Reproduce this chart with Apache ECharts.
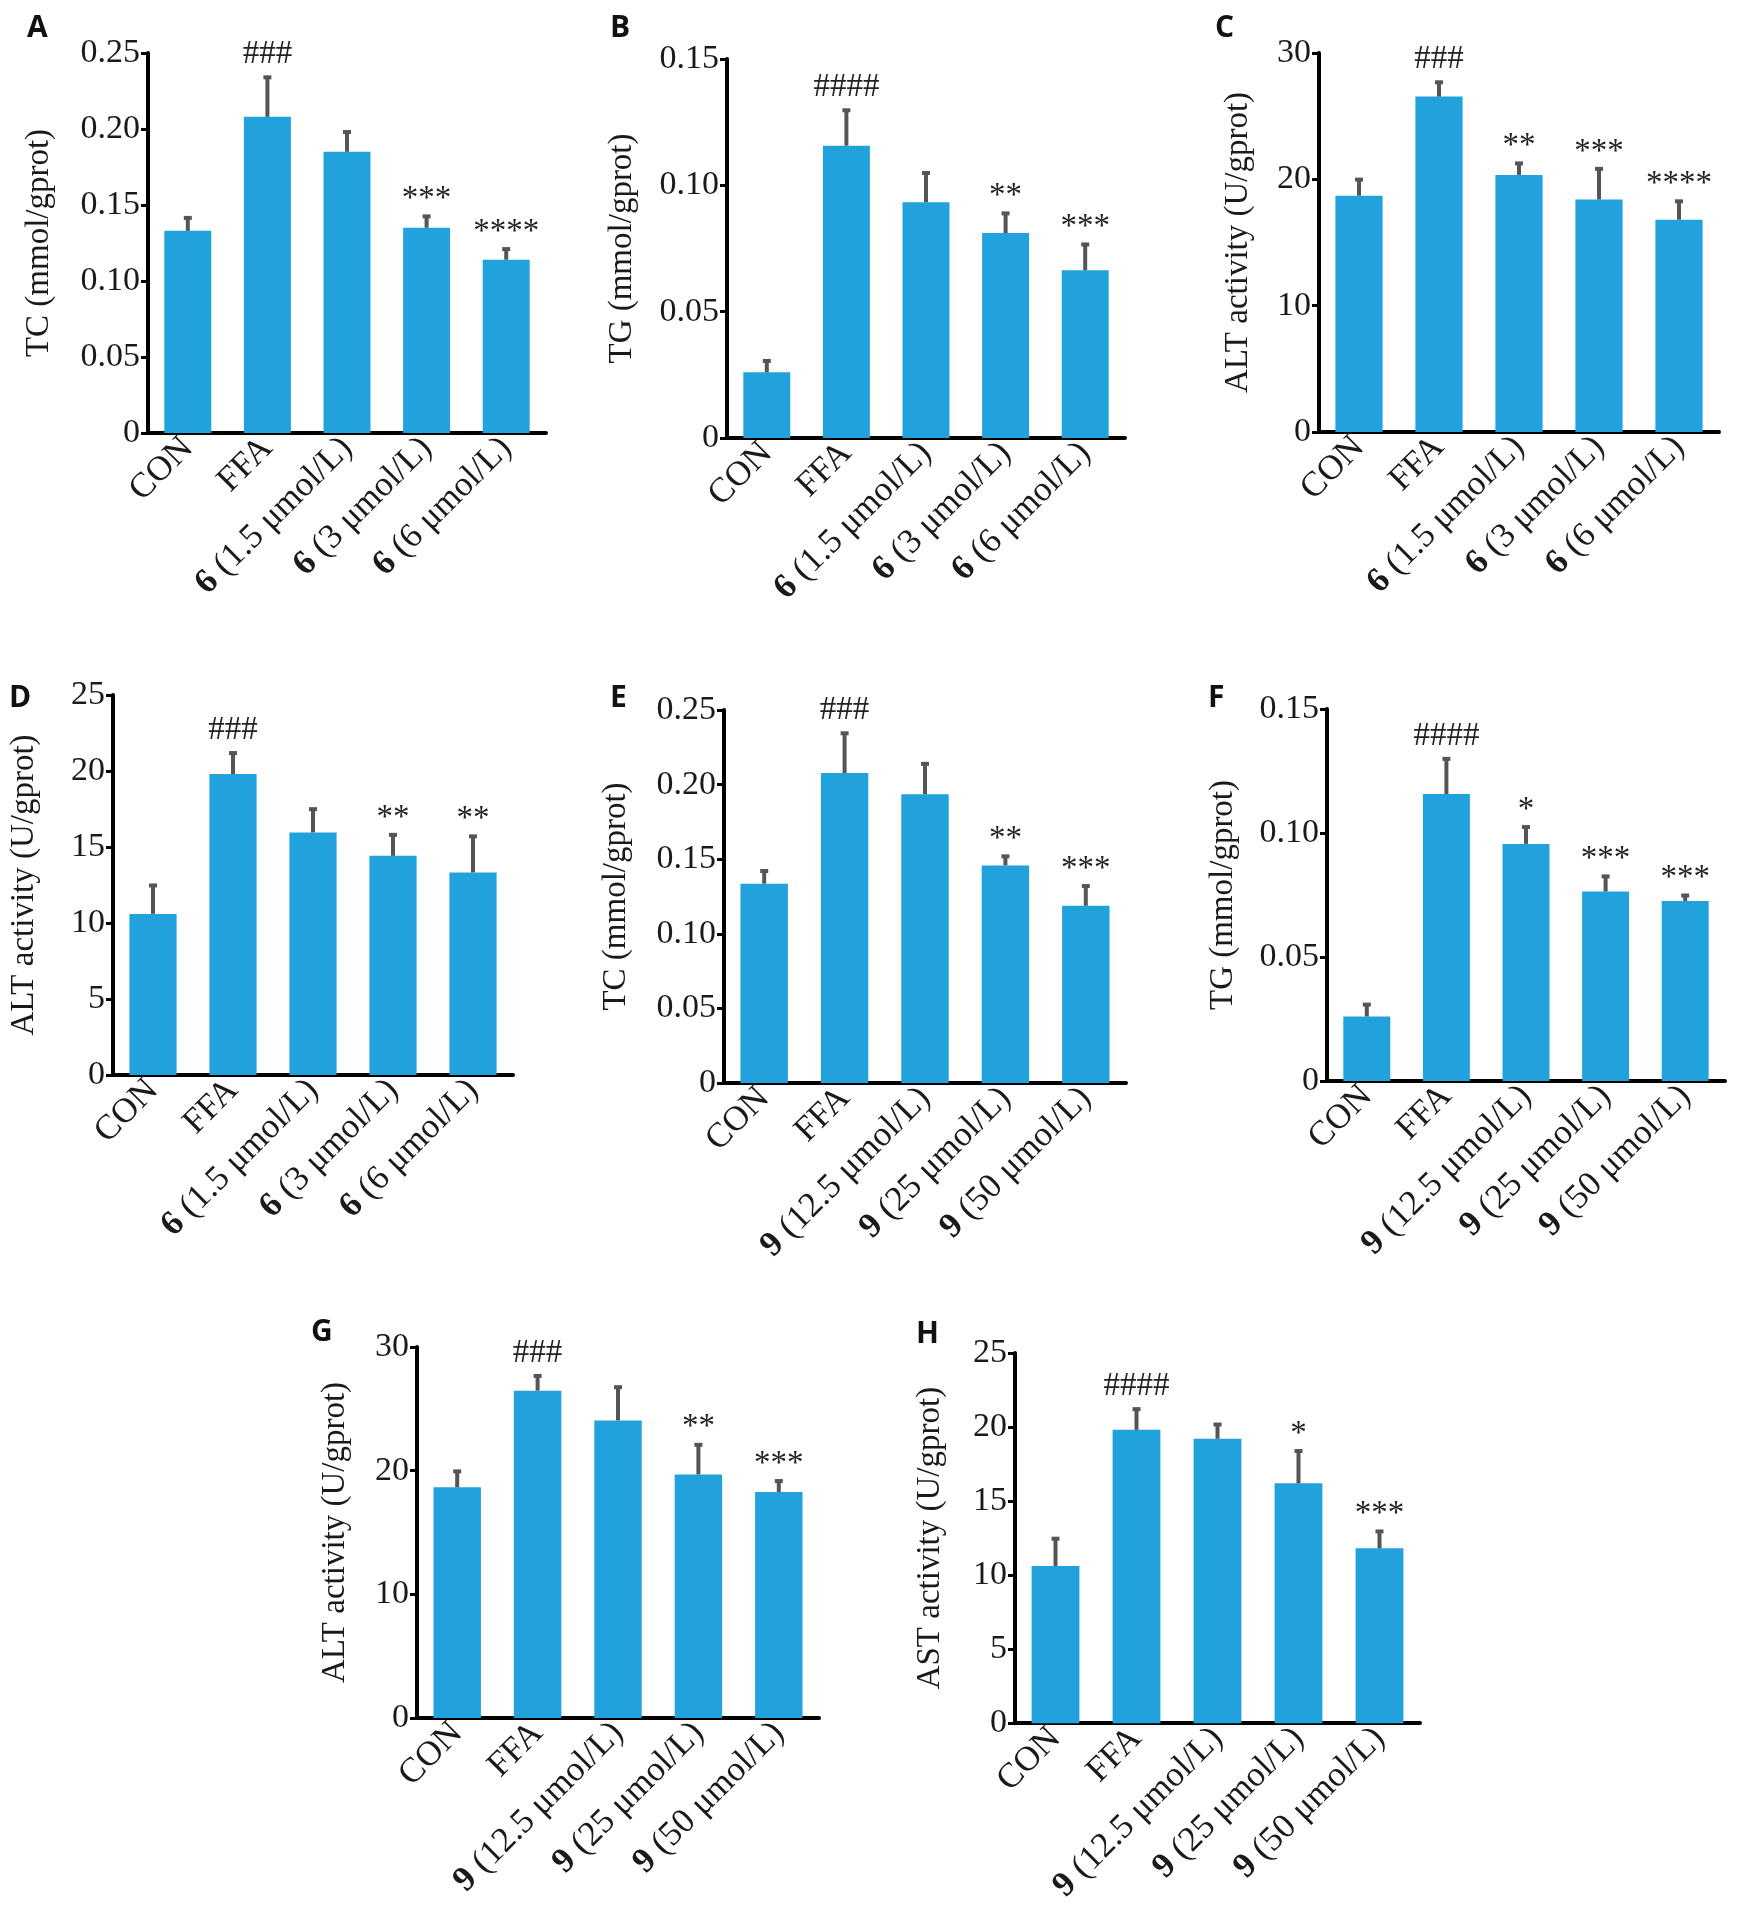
<!DOCTYPE html>
<html>
<head>
<meta charset="utf-8">
<script src="https://cdn.jsdelivr.net/npm/echarts@6/dist/echarts.min.js"></script>
<style>
  html, body { margin: 0; padding: 0; background: #fff; }
  #main { width: 1737px; height: 1906px; }
</style>
</head>
<body>
<div id="main"></div>
<script>
// categories
var cats6 = ['CON', 'FFA', '6 (1.5 μmol/L)', '6 (3 μmol/L)', '6 (6 μmol/L)'];
var cats9 = ['CON', 'FFA', '9 (12.5 μmol/L)', '9 (25 μmol/L)', '9 (50 μmol/L)'];

// A: TC, compound 6
var tc6Mean = [0.133, 0.208, 0.185, 0.135, 0.114];
var tc6Sd = [0.0085, 0.026, 0.013, 0.0075, 0.007];
var tc6Marks = ['', '###', '', '***', '****'];
// B: TG, compound 6
var tg6Mean = [0.026, 0.1157, 0.0933, 0.0811, 0.0664];
var tg6Sd = [0.0045, 0.014, 0.0116, 0.0078, 0.0102];
var tg6Marks = ['', '####', '', '**', '***'];
// C: ALT, compound 6
var altC6Mean = [18.7, 26.55, 20.35, 18.4, 16.8];
var altC6Sd = [1.28, 1.13, 0.91, 2.43, 1.46];
var altC6Marks = ['', '###', '**', '***', '****'];
// D: ALT, compound 6
var altD6Mean = [10.6, 19.8, 15.96, 14.42, 13.33];
var altD6Sd = [1.87, 1.38, 1.53, 1.38, 2.37];
var altD6Marks = ['', '###', '', '**', '**'];
// E: TC, compound 9
var tc9Mean = [0.1336, 0.2078, 0.1935, 0.1458, 0.1188];
var tc9Sd = [0.0085, 0.0266, 0.0204, 0.0061, 0.0132];
var tc9Marks = ['', '###', '', '**', '***'];
// F: TG, compound 9
var tg9Mean = [0.026, 0.1157, 0.0956, 0.0764, 0.0726];
var tg9Sd = [0.0048, 0.0142, 0.0068, 0.0061, 0.0022];
var tg9Marks = ['', '####', '*', '***', '***'];
// G: ALT, compound 9
var alt9Mean = [18.66, 26.47, 24.06, 19.69, 18.28];
var alt9Sd = [1.28, 1.19, 2.69, 2.4, 0.88];
var alt9Marks = ['', '###', '', '**', '***'];
// H: AST, compound 9
var ast9Mean = [10.62, 19.81, 19.21, 16.2, 11.81];
var ast9Sd = [1.84, 1.4, 0.96, 2.18, 1.14];
var ast9Marks = ['', '####', '', '*', '***'];

var SERIF = '"Liberation Serif", "Times New Roman", serif';
var BAR = '#21a2dc';
var ERR = '#555555';

// layout: grid box [left, top, width, height], letter pos, name gap
var panels = [
  { letter: 'A', cats: cats6, mean: tc6Mean, sd: tc6Sd, marks: tc6Marks, max: 0.25, step: 0.05, title: 'TC (mmol/gprot)', box: [148, 53, 398, 380], lp: [27, 13], gap: 92 },
  { letter: 'B', cats: cats6, mean: tg6Mean, sd: tg6Sd, marks: tg6Marks, max: 0.15, step: 0.05, title: 'TG (mmol/gprot)', box: [727, 59, 398, 379], lp: [610, 13], gap: 88 },
  { letter: 'C', cats: cats6, mean: altC6Mean, sd: altC6Sd, marks: altC6Marks, max: 30, step: 10, title: 'ALT activity (U/gprot)', box: [1319, 53, 400, 379], lp: [1215, 13], gap: 64 },
  { letter: 'D', cats: cats6, mean: altD6Mean, sd: altD6Sd, marks: altD6Marks, max: 25, step: 5, title: 'ALT activity (U/gprot)', box: [113, 695, 400, 380], lp: [9, 683], gap: 72 },
  { letter: 'E', cats: cats9, mean: tc9Mean, sd: tc9Sd, marks: tc9Marks, max: 0.25, step: 0.05, title: 'TC (mmol/gprot)', box: [724, 710, 402, 373], lp: [610, 683], gap: 91 },
  { letter: 'F', cats: cats9, mean: tg9Mean, sd: tg9Sd, marks: tg9Marks, max: 0.15, step: 0.05, title: 'TG (mmol/gprot)', box: [1327, 709, 398, 372], lp: [1208, 683], gap: 87 },
  { letter: 'G', cats: cats9, mean: alt9Mean, sd: alt9Sd, marks: alt9Marks, max: 30, step: 10, title: 'ALT activity (U/gprot)', box: [417, 1347, 402, 371], lp: [311, 1317], gap: 65 },
  { letter: 'H', cats: cats9, mean: ast9Mean, sd: ast9Sd, marks: ast9Marks, max: 25, step: 5, title: 'AST activity (U/gprot)', box: [1015, 1353, 405, 372], lp: [916, 1319], gap: 68 }
];

function catLabel(v) {
  // bold compound number in front
  var m = /^(\d) (.*)$/.exec(v);
  if (m) return '{b|' + m[1] + '}{n| ' + m[2] + '}';
  return '{n|' + v + '}';
}

var grids = [], xAxes = [], yAxes = [], series = [], graphics = [];

panels.forEach(function (p, gi) {
  grids.push({ left: p.box[0], top: p.box[1], width: p.box[2], height: p.box[3], containLabel: false });
  xAxes.push({
    type: 'category', gridIndex: gi, data: p.cats,
    axisLine: { lineStyle: { color: '#000', width: 4 } },
    axisTick: { show: false },
    axisLabel: {
      interval: 0, rotate: 45, margin: 10, formatter: catLabel,
      rich: {
        b: { fontFamily: SERIF, fontSize: 35, fontWeight: 'bold', color: '#1a1a1a' },
        n: { fontFamily: SERIF, fontSize: 35, color: '#1a1a1a' }
      }
    }
  });
  yAxes.push({
    type: 'value', gridIndex: gi, min: 0, max: p.max, interval: p.step,
    name: p.title, nameLocation: 'middle', nameRotate: 90, nameGap: p.gap,
    nameTextStyle: { fontFamily: SERIF, fontSize: 33, color: '#1a1a1a' },
    axisLine: { show: true, lineStyle: { color: '#000', width: 4 } },
    axisTick: { show: true, length: 7, lineStyle: { color: '#000', width: 3 } },
    splitLine: { show: false },
    axisLabel: {
      fontFamily: SERIF, fontSize: 34, color: '#1a1a1a', margin: 8,
      formatter: function (v) {
        if (p.step < 1) return v === 0 ? '0' : v.toFixed(2);
        return String(Math.round(v));
      }
    }
  });
  series.push({
    type: 'bar', xAxisIndex: gi, yAxisIndex: gi, data: p.mean,
    barWidth: '59%', itemStyle: { color: BAR }, z: 2
  });
  series.push({
    type: 'custom', xAxisIndex: gi, yAxisIndex: gi, z: 3,
    data: p.mean.map(function (m, i) { return [i, m, m + p.sd[i]]; }),
    encode: { x: 0, y: [1, 2] },
    renderItem: function (params, api) {
      var a = api.coord([api.value(0), api.value(1)]);
      var b = api.coord([api.value(0), api.value(2)]);
      return {
        type: 'group', children: [
          { type: 'line', shape: { x1: a[0], y1: a[1], x2: b[0], y2: b[1] }, style: { stroke: ERR, lineWidth: 4 } },
          { type: 'line', shape: { x1: b[0] - 4, y1: b[1], x2: b[0] + 4, y2: b[1] }, style: { stroke: ERR, lineWidth: 4 } }
        ]
      };
    }
  });
  series.push({
    type: 'custom', xAxisIndex: gi, yAxisIndex: gi, z: 4,
    data: p.mean.map(function (m, i) { return [i, m + p.sd[i], p.marks[i]]; }),
    encode: { x: 0, y: 1 },
    renderItem: function (params, api) {
      var t = p.marks[params.dataIndex];
      if (!t) return null;
      var c = api.coord([api.value(0), api.value(1)]);
      var off = t.charAt(0) === '#' ? 23 : 17;
      return {
        type: 'text', x: c[0], y: c[1] - off,
        style: { text: t, fill: '#222', font: '33px ' + SERIF, textAlign: 'center', textVerticalAlign: 'middle' }
      };
    }
  });
  graphics.push({
    type: 'text', left: p.lp[0], top: p.lp[1],
    style: { text: p.letter, fill: '#111', font: 'bold 30px "Open Sans", "DejaVu Sans", sans-serif' }
  });
});

var chart = echarts.init(document.getElementById('main'));
chart.setOption({
  backgroundColor: '#fff',
  animation: false,
  grid: grids,
  xAxis: xAxes,
  yAxis: yAxes,
  series: series,
  graphic: graphics
});
</script>
</body>
</html>
